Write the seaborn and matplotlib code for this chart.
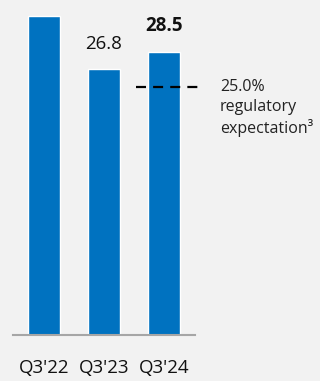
import matplotlib
matplotlib.use("Agg")
import matplotlib.pyplot as plt
import seaborn as sns
import pandas as pd

quarters = ["Q3'22", "Q3'23", "Q3'24"]
ratios = [32.1, 26.8, 28.5]
value_labels = [None, "26.8", "28.5"]
regulatory_level = 25.0
regulatory_text = "25.0%\nregulatory\nexpectation\u00b3"

sns.set_theme(style="white")
plt.rcParams["font.family"] = ["Open Sans", "DejaVu Sans"]

bg = "#f2f2f2"
blue = "#0072c0"

fig = plt.figure(figsize=(3.2, 3.81), dpi=100, facecolor=bg)
ax = fig.add_axes([13 / 320, 46 / 381, 182 / 320, 335 / 381])
ax.set_facecolor(bg)

df = pd.DataFrame({"quarter": quarters, "ratio": ratios})
sns.barplot(data=df, x="quarter", y="ratio", color=blue, saturation=1,
            width=0.535, ax=ax)

ax.set_xlim(-0.517, 2.517)
ax.set_ylim(0, 33.75)

for i, lab in enumerate(value_labels):
    if lab is None:
        continue
    bold = i == len(ratios) - 1
    ax.text(i, ratios[i] + 1.6, lab, ha="center", va="bottom",
            fontsize=13.5, fontweight="bold" if bold else "normal",
            color="#111111")

# regulatory expectation marker
ax.plot([1.53, 2.6], [regulatory_level, regulatory_level], color="black",
        lw=1.6, ls=(0, (4.5, 3.2)), clip_on=False)
fig.text(220 / 320, 1 - 79 / 381, regulatory_text, ha="left", va="top",
         fontsize=11.5, color="#222222", linespacing=1.3)

for s in ["top", "right", "left"]:
    ax.spines[s].set_visible(False)
ax.spines["bottom"].set_color("#a6a6a6")
ax.spines["bottom"].set_linewidth(1.5)
ax.set_yticks([])
ax.set_xlabel("")
ax.set_ylabel("")
ax.tick_params(axis="x", length=0, pad=17, labelsize=13.5, labelcolor="#111111")

fig.savefig("out.png", dpi=100, facecolor=bg)
